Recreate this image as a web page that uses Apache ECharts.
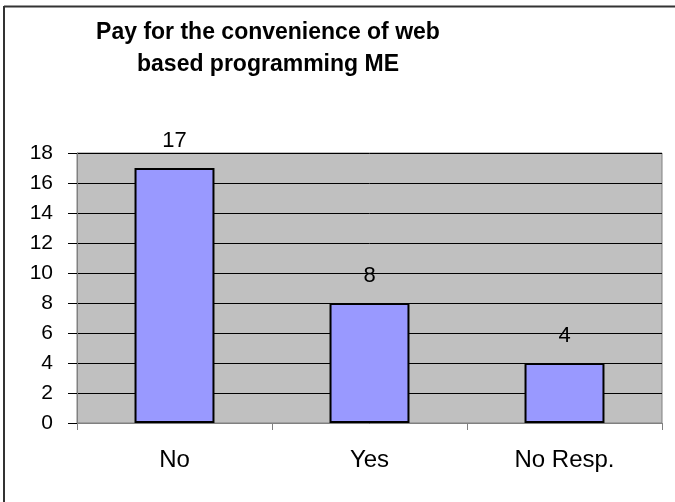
<!DOCTYPE html>
<html>
<head>
<meta charset="utf-8">
<script src="https://cdn.jsdelivr.net/npm/echarts@6/dist/echarts.min.js"></script>
<style>
  html, body { margin: 0; padding: 0; background: #fff; }
  #chart { width: 675px; height: 502px; }
</style>
</head>
<body>
<div id="chart"></div>
<script>
  const categories = ['No', 'Yes', 'No Resp.'];
  const counts = [17, 8, 4];

  const chart = echarts.init(document.getElementById('chart'));

  const option = {
    backgroundColor: '#fff',
    animation: false,
    title: {
      text: 'Pay for the convenience of web\nbased programming ME',
      left: 263,
      top: 12,
      textAlign: 'center',
      textStyle: {
        fontFamily: 'Liberation Sans',
        fontWeight: 'bold',
        fontSize: 23,
        lineHeight: 32,
        color: '#000'
      }
    },
    graphic: [
      // chart frame: only left and top edges are visible
      { type: 'line', shape: { x1: 4, y1: 6, x2: 4, y2: 502 }, style: { stroke: '#333', lineWidth: 2 } },
      { type: 'line', shape: { x1: 4, y1: 6.5, x2: 675, y2: 6.5 }, style: { stroke: '#333', lineWidth: 2 } }
    ],
    grid: {
      left: 77,
      right: 13,
      top: 153,
      bottom: 79,
      show: true,
      backgroundColor: '#C0C0C0',
      borderColor: '#808080',
      borderWidth: 1
    },
    xAxis: {
      type: 'category',
      data: categories,
      axisLine: { lineStyle: { color: '#808080', width: 1 } },
      axisTick: { show: true, length: 7, lineStyle: { color: '#808080' } },
      axisLabel: {
        margin: 25,
        fontFamily: 'Liberation Sans',
        fontSize: 24,
        color: '#000'
      }
    },
    yAxis: {
      type: 'value',
      min: 0,
      max: 18,
      interval: 2,
      axisLine: { show: true, lineStyle: { color: '#808080', width: 1 } },
      axisTick: { show: true, length: 9, lineStyle: { color: '#000' } },
      splitLine: { show: true, lineStyle: { color: '#000', width: 1 } },
      axisLabel: {
        margin: 24,
        fontFamily: 'Liberation Sans',
        fontSize: 21,
        color: '#000'
      }
    },
    series: [
      {
        type: 'bar',
        data: counts,
        barWidth: '41%',
        itemStyle: {
          color: '#9999FF',
          borderColor: '#000',
          borderWidth: 2
        },
        label: {
          show: true,
          position: 'top',
          distance: 16,
          fontFamily: 'Liberation Sans',
          fontSize: 22,
          color: '#000'
        }
      }
    ]
  };

  chart.setOption(option);
</script>
</body>
</html>
